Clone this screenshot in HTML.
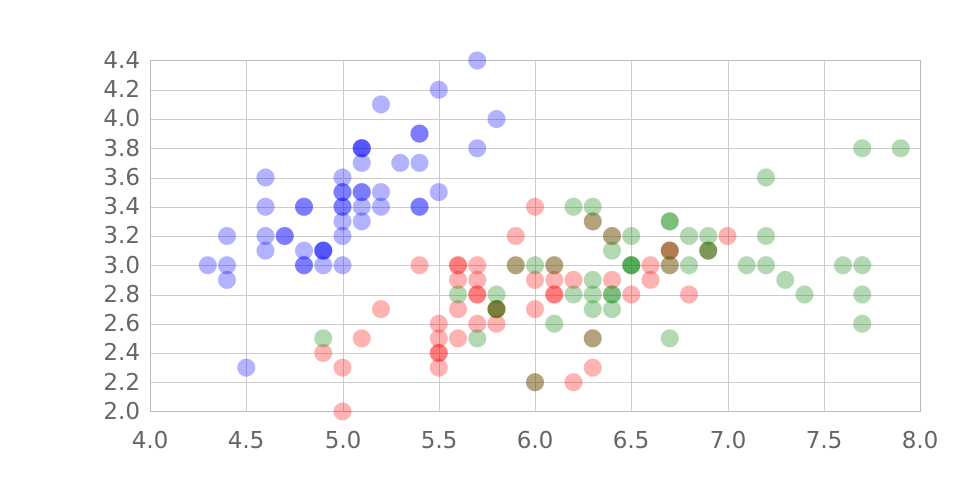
<!DOCTYPE html>
<html><head><meta charset="utf-8"><style>
html,body{margin:0;padding:0;background:#fff;}
svg{display:block;}
text{font-family:"DejaVu Sans","Liberation Sans",sans-serif;font-size:23px;fill:#666;}
</style></head><body>
<svg id="s" width="960" height="500" xmlns="http://www.w3.org/2000/svg">
<g id="grid" stroke="#ccc" stroke-width="1"></g>
<rect x="150.5" y="60.5" width="770" height="351" fill="none" stroke="#bbb"/>
<g text-anchor="end">
<text x="140" y="68">4.4</text><text x="140" y="97">4.2</text><text x="140" y="126">4.0</text>
<text x="140" y="156">3.8</text><text x="140" y="185">3.6</text><text x="140" y="214">3.4</text>
<text x="140" y="243">3.2</text><text x="140" y="273">3.0</text><text x="140" y="302">2.8</text>
<text x="140" y="331">2.6</text><text x="140" y="360">2.4</text><text x="140" y="390">2.2</text>
<text x="140" y="419">2.0</text>
</g>
<g text-anchor="middle">
<text x="150" y="448">4.0</text><text x="246" y="448">4.5</text><text x="343" y="448">5.0</text>
<text x="439" y="448">5.5</text><text x="535" y="448">6.0</text><text x="631" y="448">6.5</text>
<text x="728" y="448">7.0</text><text x="824" y="448">7.5</text><text x="920" y="448">8.0</text>
</g>
<g id="pts"></g>
</svg>
<script>
var ns="http://www.w3.org/2000/svg";
function X(v){return 150+(v-4)*192.5;}
function Y(v){return 411.5-(v-2)*146.25;}
var g=document.getElementById('grid');
for(var i=1;i<8;i++){var l=document.createElementNS(ns,'line');var x=Math.round(X(4+i*0.5))+0.5;l.setAttribute('x1',x);l.setAttribute('x2',x);l.setAttribute('y1',60);l.setAttribute('y2',411);g.appendChild(l);}
for(var i=1;i<12;i++){var l=document.createElementNS(ns,'line');var y=Math.round(Y(2+i*0.2))+0.5;l.setAttribute('x1',150);l.setAttribute('x2',920);l.setAttribute('y1',y);l.setAttribute('y2',y);g.appendChild(l);}
var S="5.1,3.5;4.9,3.0;4.7,3.2;4.6,3.1;5.0,3.6;5.4,3.9;4.6,3.4;5.0,3.4;4.4,2.9;4.9,3.1;5.4,3.7;4.8,3.4;4.8,3.0;4.3,3.0;5.8,4.0;5.7,4.4;5.4,3.9;5.1,3.5;5.7,3.8;5.1,3.8;5.4,3.4;5.1,3.7;4.6,3.6;5.1,3.3;4.8,3.4;5.0,3.0;5.0,3.4;5.2,3.5;5.2,3.4;4.7,3.2;4.8,3.1;5.4,3.4;5.2,4.1;5.5,4.2;4.9,3.1;5.0,3.2;5.5,3.5;4.9,3.1;4.4,3.0;5.1,3.4;5.0,3.5;4.5,2.3;4.4,3.2;5.0,3.5;5.1,3.8;4.8,3.0;5.1,3.8;4.6,3.2;5.3,3.7;5.0,3.3";
var V="7.0,3.2;6.4,3.2;6.9,3.1;5.5,2.3;6.5,2.8;5.7,2.8;6.3,3.3;4.9,2.4;6.6,2.9;5.2,2.7;5.0,2.0;5.9,3.0;6.0,2.2;6.1,2.9;5.6,2.9;6.7,3.1;5.6,3.0;5.8,2.7;6.2,2.2;5.6,2.5;5.9,3.2;6.1,2.8;6.3,2.5;6.1,2.8;6.4,2.9;6.6,3.0;6.8,2.8;6.7,3.0;6.0,2.9;5.7,2.6;5.5,2.4;5.5,2.4;5.8,2.7;6.0,2.7;5.4,3.0;6.0,3.4;6.7,3.1;6.3,2.3;5.6,3.0;5.5,2.5;5.5,2.6;6.1,3.0;5.8,2.6;5.0,2.3;5.6,2.7;5.7,3.0;5.7,2.9;6.2,2.9;5.1,2.5;5.7,2.8";
var G="6.3,3.3;5.8,2.7;7.1,3.0;6.3,2.9;6.5,3.0;7.6,3.0;4.9,2.5;7.3,2.9;6.7,2.5;7.2,3.6;6.5,3.2;6.4,2.7;6.8,3.0;5.7,2.5;5.8,2.8;6.4,3.2;6.5,3.0;7.7,3.8;7.7,2.6;6.0,2.2;6.9,3.2;5.6,2.8;7.7,2.8;6.3,2.7;6.7,3.3;7.2,3.2;6.2,2.8;6.1,3.0;6.4,2.8;7.2,3.0;7.4,2.8;7.9,3.8;6.4,2.8;6.3,2.8;6.1,2.6;7.7,3.0;6.3,3.4;6.4,3.1;6.0,3.0;6.9,3.1;6.7,3.1;6.9,3.1;5.8,2.7;6.8,3.2;6.7,3.3;6.7,3.0;6.3,2.5;6.5,3.0;6.2,3.4;5.9,3.0";
var p=document.getElementById('pts');
[[S,'rgba(0,0,255,0.3)'],[V,'rgba(255,0,0,0.3)'],[G,'rgba(0,128,0,0.3)']].forEach(function(d){
d[0].split(';').forEach(function(q){var a=q.split(',');var c=document.createElementNS(ns,'circle');
c.setAttribute('cx',X(+a[0]));c.setAttribute('cy',Y(+a[1]));c.setAttribute('r',9);c.setAttribute('fill',d[1]);p.appendChild(c);});});
</script>
</body></html>
